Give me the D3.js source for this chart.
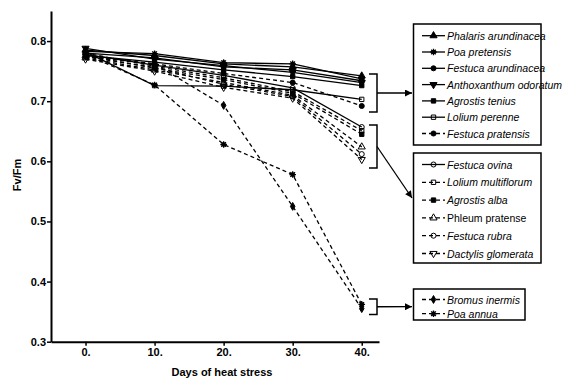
<!DOCTYPE html>
<html>
<head>
<meta charset="utf-8">
<script src="https://cdn.jsdelivr.net/npm/d3@7"></script>
<style>
  body { margin: 0; background: #fff; }
  svg { font-family: "Liberation Sans", Arial, sans-serif; }
  .axis text { font-weight: bold; font-size: 11px; }
  .legend text { font-size: 10.5px; }
</style>
</head>
<body>
<svg width="588" height="379"></svg>
<script>
// data
const days = [0, 10, 20, 30, 40];
const dayLabels = ['0.', '10.', '20.', '30.', '40.'];
const yTicks = [0.3, 0.4, 0.5, 0.6, 0.7, 0.8];

const speciesNames = [
  'Phalaris arundinacea', 'Poa pretensis', 'Festuca arundinacea', 'Anthoxanthum odoratum',
  'Agrostis tenius', 'Lolium perenne', 'Festuca pratensis',
  'Festuca ovina', 'Lolium multiflorum', 'Agrostis alba', 'Phleum pratense',
  'Festuca rubra', 'Dactylis glomerata',
  'Bromus inermis', 'Poa annua'
];

const phalaris     = [0.785, 0.776, 0.762, 0.757, 0.742];
const poaPratensis = [0.783, 0.779, 0.764, 0.762, 0.737];
const festArund    = [0.780, 0.772, 0.757, 0.752, 0.734];
const anthox       = [0.788, 0.770, 0.759, 0.748, 0.731];
const agrTenius    = [0.776, 0.765, 0.752, 0.741, 0.726];
const lolPerenne   = [0.782, 0.726, 0.725, 0.719, 0.703];
const festPrat     = [0.775, 0.762, 0.746, 0.731, 0.692];
const festOvina    = [0.778, 0.760, 0.743, 0.722, 0.657];
const lolMulti     = [0.780, 0.758, 0.739, 0.716, 0.651];
const agrAlba      = [0.776, 0.755, 0.736, 0.713, 0.645];
const phleum       = [0.772, 0.752, 0.731, 0.710, 0.624];
const festRubra    = [0.774, 0.756, 0.728, 0.708, 0.612];
const dactylis     = [0.770, 0.750, 0.723, 0.705, 0.603];
const bromus       = [0.775, 0.762, 0.693, 0.525, 0.355];
const poaAnnua     = [0.778, 0.727, 0.628, 0.578, 0.362];

const seriesValues = [phalaris, poaPratensis, festArund, anthox, agrTenius, lolPerenne, festPrat,
  festOvina, lolMulti, agrAlba, phleum, festRubra, dactylis, bromus, poaAnnua];

// marker + line style per series
const styles = [
  { m: 'triUp', fill: true, dash: false },
  { m: 'star', fill: true, dash: false },
  { m: 'circle', fill: true, dash: false },
  { m: 'triDown', fill: true, dash: false },
  { m: 'square', fill: true, dash: false },
  { m: 'square', fill: false, dash: false },
  { m: 'circle', fill: true, dash: true },
  { m: 'circle', fill: false, dash: false },
  { m: 'square', fill: false, dash: true },
  { m: 'square', fill: true, dash: true },
  { m: 'triUp', fill: false, dash: true, upright: true },
  { m: 'circle', fill: false, dash: true },
  { m: 'triDown', fill: false, dash: true },
  { m: 'diamond', fill: true, dash: true },
  { m: 'star', fill: true, dash: true }
];

const svg = d3.select('svg');

const x = d3.scaleLinear().domain([-5, 42.5]).range([51, 379]);
const y = d3.scaleLinear().domain([0.3, 0.85]).range([341.7, 11]);

// axes
const yAxis = svg.append('g')
    .attr('class', 'axis')
    .attr('transform', 'translate(51,0)')
    .call(d3.axisLeft(y).tickValues(yTicks).tickFormat(d3.format('.1f')).tickSize(4).tickSizeOuter(0));
yAxis.select('.domain').attr('stroke-width', 2);
yAxis.selectAll('.tick line').attr('stroke-width', 1.5);
yAxis.selectAll('text').attr('dx', '2px');

const xAxis = svg.append('g')
    .attr('class', 'axis')
    .attr('transform', 'translate(0,341.7)')
    .call(d3.axisBottom(x).tickValues(days).tickFormat((d, i) => dayLabels[i]).tickSize(4).tickSizeOuter(0));
xAxis.select('.domain').attr('stroke-width', 2);
xAxis.selectAll('.tick line').attr('stroke-width', 1.5);

svg.append('text')
    .attr('transform', 'translate(21,175) rotate(-90)')
    .attr('text-anchor', 'middle')
    .attr('font-weight', 'bold')
    .attr('font-size', 11)
    .text('Fv/Fm');

svg.append('text')
    .attr('x', 222)
    .attr('y', 376)
    .attr('text-anchor', 'middle')
    .attr('font-weight', 'bold')
    .attr('font-size', 11)
    .text('Days of heat stress');

// marker shapes
function markerPath(kind) {
  if (kind === 'triUp' || kind === 'triDown') return d3.symbol(d3.symbolTriangle, 22)();
  if (kind === 'circle') return d3.symbol(d3.symbolCircle, 20)();
  if (kind === 'square') return d3.symbol(d3.symbolSquare, 19)();
  if (kind === 'diamond') return d3.symbol(d3.symbolDiamond, 18)();
  return d3.symbol(d3.symbolCircle, 10)();
}

function drawMarker(g, st, cx, cy) {
  g.append('path')
      .attr('d', markerPath(st.m))
      .attr('transform', `translate(${cx},${cy})` + (st.m === 'triDown' ? ' rotate(180)' : ''))
      .attr('fill', st.fill ? '#000' : '#fff')
      .attr('fill-opacity', st.fill ? 1 : 0)
      .attr('stroke', '#000')
      .attr('stroke-width', 1);
  if (st.m === 'star') {
    // asterisk spikes
    g.append('path')
      .attr('d', d3.range(4).map(k => {
        const a = k * Math.PI / 4, r = 3.3;
        return `M${cx - r * Math.cos(a)},${cy - r * Math.sin(a)}L${cx + r * Math.cos(a)},${cy + r * Math.sin(a)}`;
      }).join(''))
      .attr('stroke', '#000')
      .attr('stroke-width', 1.3);
  }
}

const line = d3.line().x((d, i) => x(days[i])).y(d => y(d));

const plot = svg.append('g');
seriesValues.forEach((vals, s) => {
  const st = styles[s];
  plot.append('path')
      .attr('d', line(vals))
      .attr('fill', 'none')
      .attr('stroke', '#000')
      .attr('stroke-width', 1.3)
      .attr('stroke-dasharray', st.dash ? '4,3' : null);
});
seriesValues.forEach((vals, s) => {
  vals.forEach((v, i) => drawMarker(plot, styles[s], x(days[i]), y(v)));
});

// legend boxes
const groups = [
  { idx: [0, 1, 2, 3, 4, 5, 6], top: 24, bottom: 145, right: 541, first: 35.7, step: 16.3 },
  { idx: [7, 8, 9, 10, 11, 12], top: 153, bottom: 263, right: 541, first: 164.5, step: 17.8 },
  { idx: [13, 14], top: 289, bottom: 320, right: 525, first: 299.5, step: 14.2 }
];
const legend = svg.append('g').attr('class', 'legend');
groups.forEach(gr => {
  legend.append('rect')
      .attr('x', 413.5).attr('y', gr.top)
      .attr('width', gr.right - 413.5).attr('height', gr.bottom - gr.top)
      .attr('fill', 'none').attr('stroke', '#000').attr('stroke-width', 1.5);
  gr.idx.forEach((s, k) => {
    const ly = gr.first + k * gr.step;
    const st = styles[s];
    legend.append('line')
        .attr('x1', 422).attr('x2', 445).attr('y1', ly).attr('y2', ly)
        .attr('stroke', '#000').attr('stroke-width', 1.3)
        .attr('stroke-dasharray', st.dash ? '4,3' : null);
    drawMarker(legend, st, 433.5, ly);
    legend.append('text')
        .attr('x', 447).attr('y', ly + 4)
        .attr('font-style', st.upright ? 'normal' : 'italic')
        .text(speciesNames[s]);
  });
});

// brackets and arrows
const defs = svg.append('defs');
defs.append('marker')
    .attr('id', 'arrow')
    .attr('viewBox', '0 0 10 10')
    .attr('refX', 10).attr('refY', 5)
    .attr('markerWidth', 8).attr('markerHeight', 7)
    .attr('markerUnits', 'userSpaceOnUse')
    .attr('orient', 'auto')
    .append('path').attr('d', 'M0,0L10,5L0,10Z').attr('fill', '#000');

const brackets = [
  { top: 74, bottom: 112, x2: 412, y2: 93 },
  { top: 125, bottom: 168, x2: 412, y2: 198 },
  { top: 299, bottom: 314.5, x2: 412, y2: 306.7 }
];
brackets.forEach(b => {
  const mid = (b.top + b.bottom) / 2;
  svg.append('path')
      .attr('d', `M369,${b.top}H377V${b.bottom}H369`)
      .attr('fill', 'none').attr('stroke', '#000').attr('stroke-width', 1.5);
  svg.append('line')
      .attr('x1', 377).attr('y1', mid).attr('x2', b.x2).attr('y2', b.y2)
      .attr('stroke', '#000').attr('stroke-width', 1.3)
      .attr('marker-end', 'url(#arrow)');
});
</script>
</body>
</html>
